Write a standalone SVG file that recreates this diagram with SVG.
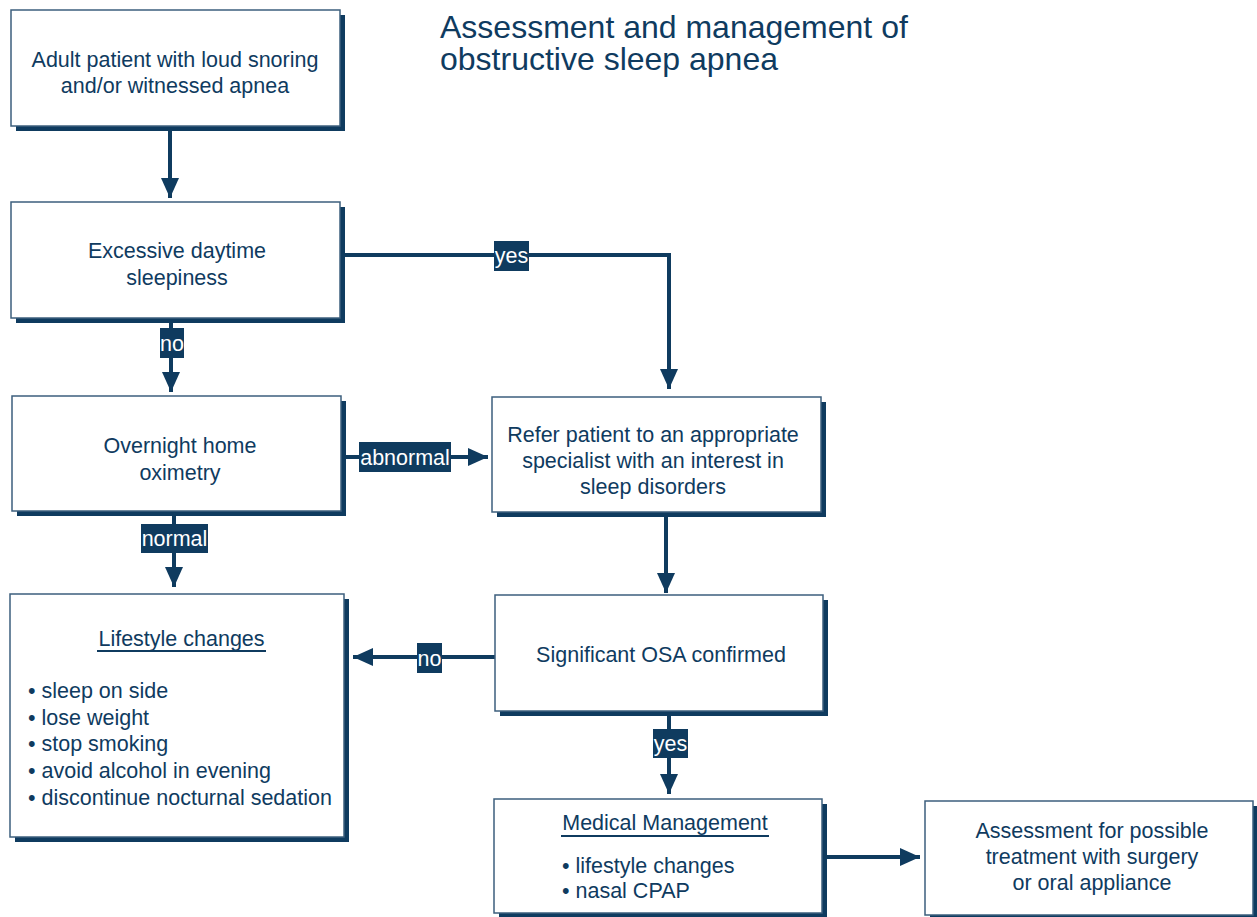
<svg xmlns="http://www.w3.org/2000/svg" width="1257" height="917" viewBox="0 0 1257 917">
  <defs>
    <style>
      .txt { font-family: "Liberation Sans", Arial, sans-serif; font-size: 21.5px; fill: #0f3b5f; }
      .mid { text-anchor: middle; }
      .title { font-family: "Liberation Sans", Arial, sans-serif; font-size: 32px; fill: #0f3b5f; }
      .shadow { fill: #0f3b5f; }
      .box { fill: #ffffff; stroke: #3d5f7d; stroke-width: 1.5; }
      .edge { fill: none; stroke: #0f3b5f; stroke-width: 4; }
      .tag { fill: #0f3b5f; }
      .tagtxt { font-family: "Liberation Sans", Arial, sans-serif; font-size: 21.5px; fill: #ffffff; text-anchor: middle; }
      .ul { stroke: #0f3b5f; stroke-width: 2; }
    </style>
    <marker id="arrow" viewBox="0 0 20 18" refX="20" refY="9" markerWidth="20" markerHeight="18" markerUnits="userSpaceOnUse" orient="auto">
      <path d="M0,0 L20,9 L0,18 Z" fill="#0f3b5f"/>
    </marker>
  </defs>

  <rect width="1257" height="917" fill="#ffffff"/>

  <g id="title">
    <text class="title"><tspan x="440" y="38">Assessment and management of</tspan><tspan x="440" y="70">obstructive sleep apnea</tspan></text>
  </g>

  <!-- connectors -->
  <g id="connectors">
    <path class="edge" d="M170,130 V198" marker-end="url(#arrow)"/>
    <path class="edge" d="M171,322 V392" marker-end="url(#arrow)"/>
    <path class="edge" d="M344,255 H669 V389" marker-end="url(#arrow)"/>
    <path class="edge" d="M346,457 H488" marker-end="url(#arrow)"/>
    <path class="edge" d="M174,515 V587" marker-end="url(#arrow)"/>
    <path class="edge" d="M666,517 V593" marker-end="url(#arrow)"/>
    <path class="edge" d="M495,657 H353" marker-end="url(#arrow)"/>
    <path class="edge" d="M669,716 V794" marker-end="url(#arrow)"/>
    <path class="edge" d="M827,857 H920" marker-end="url(#arrow)"/>

    <rect class="tag" x="160" y="328" width="24" height="30"/>
    <text class="tagtxt" x="172" y="351">no</text>
    <rect class="tag" x="494" y="241" width="35" height="30"/>
    <text class="tagtxt" x="511.5" y="263">yes</text>
    <rect class="tag" x="359" y="442" width="92" height="30"/>
    <text class="tagtxt" x="405" y="465">abnormal</text>
    <rect class="tag" x="141" y="524" width="67" height="29"/>
    <text class="tagtxt" x="174.5" y="546">normal</text>
    <rect class="tag" x="417" y="643" width="25" height="30"/>
    <text class="tagtxt" x="429.5" y="666">no</text>
    <rect class="tag" x="653" y="729" width="35" height="29"/>
    <text class="tagtxt" x="670.5" y="751">yes</text>
  </g>

  <g id="start">
    <rect class="shadow" x="16" y="15" width="329" height="116"/>
    <rect class="box" x="11" y="10" width="329" height="116"/>
    <text class="txt mid" x="175" y="67">Adult patient with loud snoring</text>
    <text class="txt mid" x="175" y="93">and/or witnessed apnea</text>
  </g>

  <g id="sleepiness">
    <rect class="shadow" x="16" y="207" width="329" height="116"/>
    <rect class="box" x="11" y="202" width="329" height="116"/>
    <text class="txt mid" x="177" y="258">Excessive daytime</text>
    <text class="txt mid" x="177" y="285">sleepiness</text>
  </g>

  <g id="oximetry">
    <rect class="shadow" x="17" y="401" width="329" height="115"/>
    <rect class="box" x="12" y="396" width="329" height="115"/>
    <text class="txt mid" x="180" y="453">Overnight home</text>
    <text class="txt mid" x="180" y="480">oximetry</text>
  </g>

  <g id="refer">
    <rect class="shadow" x="497" y="402" width="329" height="115"/>
    <rect class="box" x="492" y="397" width="329" height="115"/>
    <text class="txt mid" x="653" y="442">Refer patient to an appropriate</text>
    <text class="txt mid" x="653" y="468">specialist with an interest in</text>
    <text class="txt mid" x="653" y="494">sleep disorders</text>
  </g>

  <g id="lifestyle">
    <rect class="shadow" x="15" y="599" width="334" height="243"/>
    <rect class="box" x="10" y="594" width="334" height="243"/>
    <text class="txt mid" x="181.5" y="646">Lifestyle changes</text>
    <line class="ul" x1="97" y1="651" x2="266" y2="651"/>
    <text class="txt" x="28" y="698">• sleep on side</text>
    <text class="txt" x="28" y="725">• lose weight</text>
    <text class="txt" x="28" y="751">• stop smoking</text>
    <text class="txt" x="28" y="778">• avoid alcohol in evening</text>
    <text class="txt" x="28" y="805">• discontinue nocturnal sedation</text>
  </g>

  <g id="confirmed">
    <rect class="shadow" x="500" y="600" width="328" height="116"/>
    <rect class="box" x="495" y="595" width="328" height="116"/>
    <text class="txt mid" x="661" y="662">Significant OSA confirmed</text>
  </g>

  <g id="medical">
    <rect class="shadow" x="499" y="804" width="328" height="114"/>
    <rect class="box" x="494" y="799" width="328" height="114"/>
    <text class="txt mid" x="665" y="830">Medical Management</text>
    <line class="ul" x1="561" y1="836" x2="769" y2="836"/>
    <text class="txt" x="562" y="873">• lifestyle changes</text>
    <text class="txt" x="562" y="898">• nasal CPAP</text>
  </g>

  <g id="surgery">
    <rect class="shadow" x="930" y="806" width="328" height="114"/>
    <rect class="box" x="925" y="801" width="328" height="114"/>
    <text class="txt mid" x="1092" y="838">Assessment for possible</text>
    <text class="txt mid" x="1092" y="864">treatment with surgery</text>
    <text class="txt mid" x="1092" y="890">or oral appliance</text>
  </g>
</svg>
